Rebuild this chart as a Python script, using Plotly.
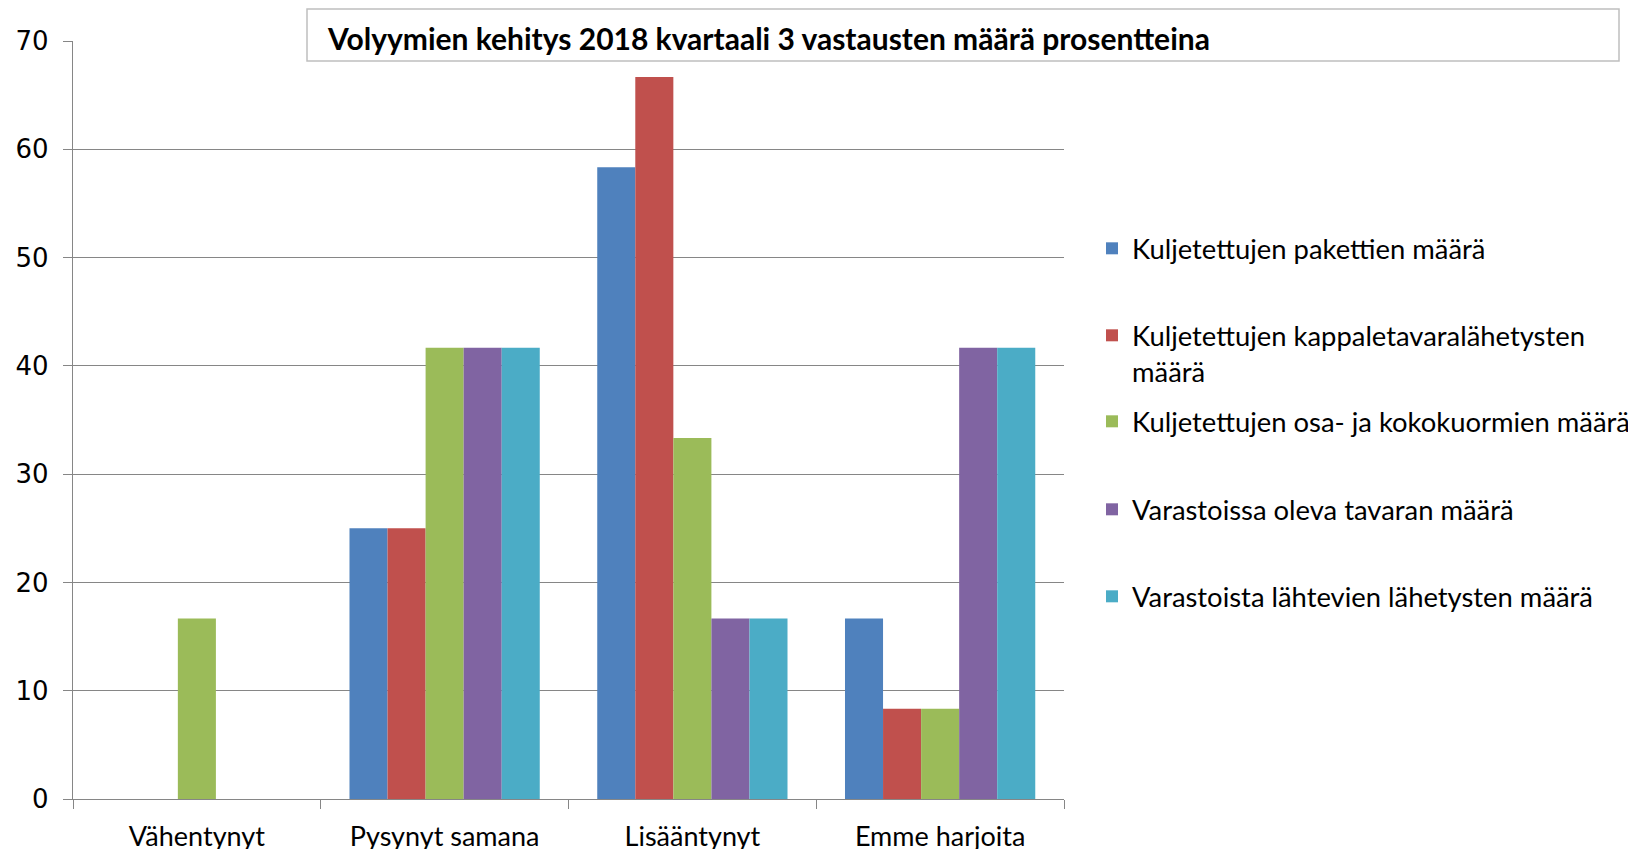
import plotly.graph_objects as go

categories = ["Vähentynyt", "Pysynyt samana", "Lisääntynyt", "Emme harjoita"]
series_names = [
    "Kuljetettujen pakettien määrä",
    "Kuljetettujen kappaletavaralähetysten<br>määrä",
    "Kuljetettujen osa- ja kokokuormien määrä",
    "Varastoissa oleva tavaran määrä",
    "Varastoista lähtevien lähetysten määrä",
]
paketit = [0, 25.0, 58.33, 16.67]
kappaletavara = [0, 25.0, 66.67, 8.33]
kuormat = [16.67, 41.67, 33.33, 8.33]
varastoissa = [0, 41.67, 16.67, 41.67]
lahtevat = [0, 41.67, 16.67, 41.67]
series_values = [paketit, kappaletavara, kuormat, varastoissa, lahtevat]
colors = ["#4F81BD", "#C0504D", "#9BBB59", "#8064A2", "#4BACC6"]
y_ticks = [0, 10, 20, 30, 40, 50, 60, 70]
title_text = "Volyymien kehitys 2018 kvartaali 3 vastausten määrä prosentteina"

# figure is placed at (8, 8) in the page (body margin)
W, H = 1628, 841
L, R, T, B = 65, 1056, 33, 791  # plot area in figure pixels
FONT = "Lato"

legend_ids = ["legend", "legend2", "legend3", "legend4", "legend5"]
legend_text_y = [240, 327, 413, 501, 588]

fig = go.Figure()
for name, vals, col, lid in zip(series_names, series_values, colors, legend_ids):
    fig.add_trace(go.Bar(
        x=categories, y=vals, name=name, marker=dict(color=col, line=dict(width=0)),
        legend=lid,
    ))

def px_x(px):
    return (px - L) / (R - L)

def px_y(py):
    return (B - py) / (B - T)

layout_legends = {}
for lid, ty in zip(legend_ids, legend_text_y):
    layout_legends[lid] = dict(
        x=1084 / W, xref="container", xanchor="left",
        y=1 - (ty - 24) / H, yref="container", yanchor="top",
        font=dict(family=FONT, size=27.4, color="#000000"),
        bgcolor="rgba(0,0,0,0)", valign="top",
    )

fig.update_layout(
    width=W, height=H,
    margin=dict(l=L, r=W - R, t=T, b=H - B, autoexpand=False),
    paper_bgcolor="white", plot_bgcolor="white",
    barmode="group", bargap=0.232, bargroupgap=0,
    showlegend=True,
    font=dict(family=FONT, size=24, color="#000000"),
    xaxis=dict(
        type="category", tickson="boundaries", ticks="outside", ticklen=9,
        tickcolor="#868686", tickwidth=1.3, showline=True, linecolor="#868686", linewidth=1.3,
        showgrid=False, tickfont=dict(family=FONT, size=27, color="#000000"),
        ticklabelstandoff=13,
    ),
    yaxis=dict(
        range=[0, 70], tickvals=y_ticks, ticks="outside", ticklen=9,
        tickcolor="#868686", tickwidth=1.3, showline=True, linecolor="#868686", linewidth=1.3,
        showgrid=True, gridcolor="#868686", gridwidth=1.3, zeroline=False,
        tickfont=dict(family="DejaVu Sans", size=26, color="#000000"),
        ticklabelstandoff=9,
    ),
    **layout_legends,
)

fig.add_shape(
    type="rect", xref="paper", yref="paper", layer="above",
    x0=px_x(299), x1=px_x(1611), y0=px_y(53), y1=px_y(1),
    fillcolor="white", line=dict(color="#BFBFBF", width=1.5),
)
fig.add_annotation(
    text="<b>" + title_text + "</b>", xref="paper", yref="paper",
    x=px_x(317), y=px_y(30), xanchor="left", yanchor="middle", showarrow=False,
    font=dict(family=FONT, size=30, color="#000000"),
)

fig.write_html("out.html")
